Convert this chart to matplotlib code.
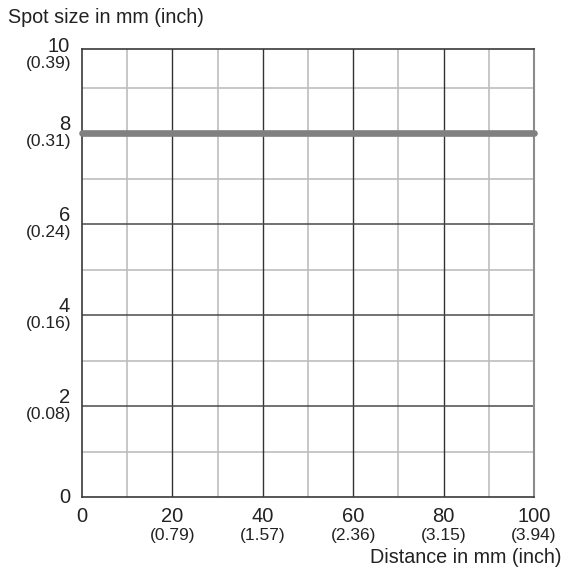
import matplotlib
matplotlib.use("Agg")
import matplotlib.pyplot as plt
from matplotlib.transforms import offset_copy, blended_transform_factory

# data
distance_mm = [0, 100]
spot_size_mm = [8, 8]

x_ticks = [0, 20, 40, 60, 80, 100]
x_inch = ["", "(0.79)", "(1.57)", "(2.36)", "(3.15)", "(3.94)"]
y_ticks = [0, 2, 4, 6, 8, 10]
y_inch = ["", "(0.08)", "(0.16)", "(0.24)", "(0.31)", "(0.39)"]

plt.rcParams['font.family'] = ['Liberation Sans', 'DejaVu Sans']

W, H = 568, 580
fig = plt.figure(figsize=(W / 100, H / 100), dpi=100)
ax = fig.add_axes([82 / W, 1 - 497 / H, (534 - 82) / W, (497 - 49) / H])
ax.set_xlim(0, 100)
ax.set_ylim(0, (497 - 49) / 45.5)

# grid: minor light, major dark
for v in range(10, 100, 20):
    ax.axvline(v, color='#bdbdbd', lw=1.2, zorder=1)
for v in range(1, 10, 2):
    ax.axhline(v, color='#bdbdbd', lw=1.2, zorder=1)
for v in x_ticks[1:-1]:
    ax.axvline(v, color='#333333', lw=1.0, zorder=2)
for v in y_ticks[1:-1]:
    ax.axhline(v, color='#4a4a4a', lw=1.1, zorder=2)

for side in ['left', 'bottom', 'top']:
    ax.spines[side].set_color('#3a3a3a')
    ax.spines[side].set_linewidth(1.2)
ax.spines['right'].set_color('#8c8c8c')
ax.spines['right'].set_linewidth(1.5)

ax.set_xticks([])
ax.set_yticks([])

ax.plot(distance_mm, spot_size_mm, color='#808080', lw=4.8,
        solid_capstyle='round', zorder=3, clip_on=False)

px = 0.72  # points per pixel
big = 14.5
small = 12.5
tc = '#222222'


def off(base, dx, dy):
    return offset_copy(base, fig=fig, x=dx * px, y=dy * px, units='points')


# x tick labels
xt = blended_transform_factory(ax.transData, ax.transAxes)
for v, inch in zip(x_ticks, x_inch):
    ax.text(v, 0, str(v), fontsize=big, color=tc, ha='center', va='baseline',
            transform=off(xt, 0, -25))
    if inch:
        ax.text(v, 0, inch, fontsize=small, color=tc, ha='center', va='baseline',
                transform=off(xt, 0, -43))

# y tick labels
yt = blended_transform_factory(ax.transAxes, ax.transData)
for v, inch in zip(y_ticks, y_inch):
    if v == 0:
        ax.text(0, v, "0", fontsize=big, color=tc, ha='right', va='baseline',
                transform=off(yt, -12, -6))
        continue
    if v == 10:
        base, yy, dy = ax.transAxes, 1.0, -6
    else:
        base, yy, dy = yt, v, 0
    ax.text(0, yy, str(v), fontsize=big, color=tc, ha='right', va='baseline',
            transform=off(base, -12, 3 + dy))
    ax.text(0, yy, inch, fontsize=small, color=tc, ha='right', va='baseline',
            transform=off(base, -11, -13 + dy))

fig.text(8 / W, 1 - 23 / H, "Spot size in mm (inch)", fontsize=14.2, color=tc,
         ha='left', va='baseline')
fig.text(562 / W, 1 - 563 / H, "Distance in mm (inch)", fontsize=14.2, color=tc,
         ha='right', va='baseline')

fig.savefig("out.png", dpi=100)
